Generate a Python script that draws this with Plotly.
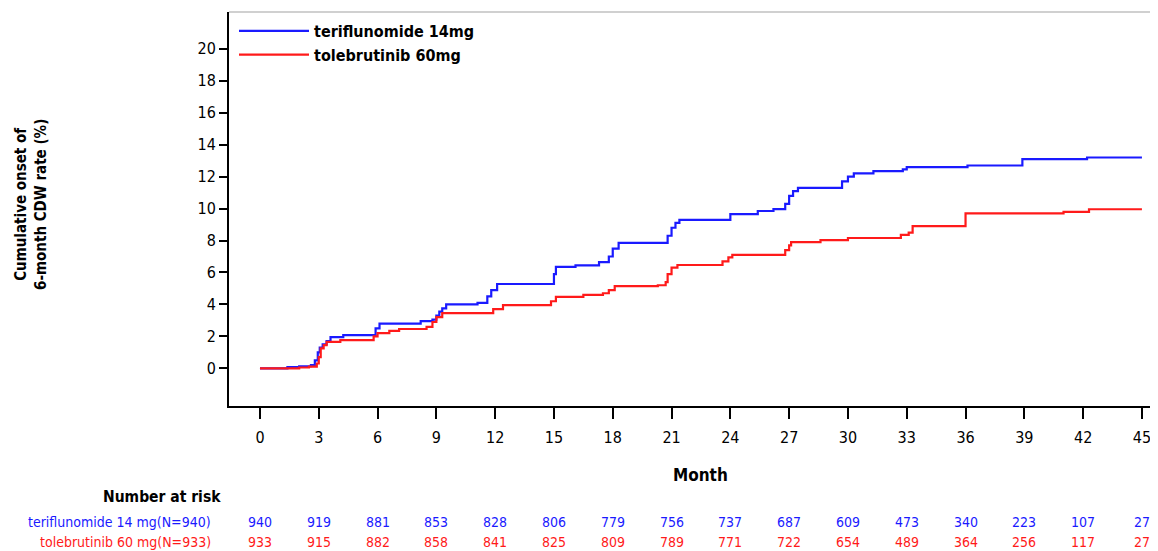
import plotly.graph_objects as go

# ---- Data ----
teri_month = [0, 1.4, 2.0, 2.6, 2.8, 2.95, 3.05, 3.2, 3.4, 3.6, 4.25, 5.9, 6.1, 8.2, 8.8, 9.0, 9.15,
              9.3, 9.5, 11.1, 11.6, 11.8, 12.1, 15.0, 15.1, 16.1, 17.3, 17.8, 18.0, 18.3, 20.8, 21.0,
              21.2, 21.4, 24.0, 25.4, 26.2, 26.8, 27.0, 27.2, 27.45, 29.7, 30.0, 30.3, 31.3, 32.8,
              33.0, 36.1, 38.9, 42.2, 45.0]
teri_rate = [0, 0.08, 0.13, 0.2, 0.5, 1.0, 1.3, 1.5, 1.7, 1.95, 2.08, 2.5, 2.8, 2.95, 3.05, 3.3, 3.55,
             3.75, 4.0, 4.1, 4.5, 4.9, 5.28, 5.9, 6.35, 6.45, 6.65, 7.0, 7.5, 7.85, 8.3, 8.8,
             9.1, 9.3, 9.65, 9.85, 9.97, 10.3, 10.8, 11.1, 11.3, 11.7, 12.0, 12.2, 12.35, 12.45,
             12.6, 12.7, 13.1, 13.2, 13.2]

tole_month = [0, 2.0, 2.5, 2.9, 3.0, 3.1, 3.25, 3.4, 4.1, 5.8, 6.0, 6.6, 7.1, 8.5, 8.8, 9.0, 9.3,
              11.9, 12.4, 14.85, 15.1, 16.5, 17.5, 17.8, 18.1, 20.3, 20.7, 20.8, 21.0, 21.3, 23.6,
              23.9, 24.1, 26.8, 27.0, 27.1, 28.6, 30.0, 32.7, 33.1, 33.3, 36.0, 41.0, 42.3, 45.0]
tole_rate = [0, 0.05, 0.1, 0.3, 0.7, 1.25, 1.45, 1.65, 1.77, 2.0, 2.2, 2.35, 2.46, 2.6, 2.9, 3.2, 3.45,
             3.7, 3.96, 4.2, 4.47, 4.6, 4.7, 4.9, 5.15, 5.2, 5.4, 5.9, 6.3, 6.47, 6.7,
             6.95, 7.1, 7.4, 7.7, 7.9, 8.03, 8.16, 8.35, 8.5, 8.9, 9.7, 9.8, 9.96, 9.96]

risk_months = [0, 3, 6, 9, 12, 15, 18, 21, 24, 27, 30, 33, 36, 39, 42, 45]
teri_risk = [940, 919, 881, 853, 828, 806, 779, 756, 737, 687, 609, 473, 340, 223, 107, 27]
tole_risk = [933, 915, 882, 858, 841, 825, 809, 789, 771, 722, 654, 489, 364, 256, 117, 27]

y_ticks = [0, 2, 4, 6, 8, 10, 12, 14, 16, 18, 20]
x_ticks = risk_months

teri_name = "teriflunomide 14mg"
tole_name = "tolebrutinib 60mg"
teri_row_label = "teriflunomide 14 mg(N=940)"
tole_row_label = "tolebrutinib 60 mg(N=933)"

BLUE = "#1a1aff"
RED = "#ff1a1a"
FONT = "Liberation Sans Narrow, DejaVu Sans Condensed, Liberation Sans, Arial, sans-serif"

fig = go.Figure()
fig.add_trace(go.Scatter(x=teri_month, y=teri_rate, mode="lines", name=teri_name,
                         line=dict(color=BLUE, width=2.2, shape="hv")))
fig.add_trace(go.Scatter(x=tole_month, y=tole_rate, mode="lines", name=tole_name,
                         line=dict(color=RED, width=2.2, shape="hv")))

# page body has an 8px margin: figure is placed at (8, 8) in the window
OFF = 8
WIN_W, WIN_H = 1158, 551
PLOT_L, PLOT_R, PLOT_T, PLOT_B = 229, 1158, 12, 406   # plot area in window pixels
W, H = WIN_W - OFF, WIN_H - OFF
L, R, T, B = PLOT_L - OFF, WIN_W - PLOT_R, PLOT_T - OFF, WIN_H - PLOT_B
pw = PLOT_R - PLOT_L
ph = PLOT_B - PLOT_T


def px_x(p):
    return (p - PLOT_L) / pw


def px_y(p):
    return (PLOT_B - p) / ph


annotations = []
# y-axis title
annotations.append(dict(text="<b>Cumulative onset of<br>6-month CDW rate (%)</b>", xref="paper", yref="paper",
                        x=px_x(31), y=px_y(205), xanchor="center", yanchor="middle", textangle=-90,
                        showarrow=False, font=dict(family=FONT, size=15, color="black")))
# x-axis title
annotations.append(dict(text="<b>Month</b>", xref="paper", yref="paper", x=px_x(700), y=px_y(475),
                        xanchor="center", yanchor="middle", showarrow=False,
                        font=dict(family=FONT, size=17, color="black")))
# number at risk header
annotations.append(dict(text="<b>Number at risk</b>", xref="paper", yref="paper", x=px_x(223), y=px_y(497),
                        xanchor="right", yanchor="middle", showarrow=False,
                        font=dict(family=FONT, size=15.5, color="black")))
annotations.append(dict(text=teri_row_label, xref="paper", yref="paper", x=px_x(213), y=px_y(522),
                        xanchor="right", yanchor="middle", showarrow=False,
                        font=dict(family=FONT, size=14, color=BLUE)))
annotations.append(dict(text=tole_row_label, xref="paper", yref="paper", x=px_x(213), y=px_y(542),
                        xanchor="right", yanchor="middle", showarrow=False,
                        font=dict(family=FONT, size=14, color=RED)))
for m, a, b in zip(risk_months, teri_risk, tole_risk):
    annotations.append(dict(text=str(a), xref="x", yref="paper", x=m, y=px_y(522),
                            xanchor="center", yanchor="middle", showarrow=False,
                            font=dict(family=FONT, size=14, color=BLUE)))
    annotations.append(dict(text=str(b), xref="x", yref="paper", x=m, y=px_y(542),
                            xanchor="center", yanchor="middle", showarrow=False,
                            font=dict(family=FONT, size=14, color=RED)))

fig.update_layout(
    width=W, height=H,
    margin=dict(l=L, r=R, t=T, b=B, autoexpand=False),
    paper_bgcolor="white", plot_bgcolor="white",
    font=dict(family=FONT, size=15, color="black"),
    showlegend=True,
    legend=dict(x=px_x(234), y=px_y(14), xanchor="left", yanchor="top",
                bgcolor="rgba(0,0,0,0)", borderwidth=0,
                font=dict(family=FONT, size=16, color="black", weight="bold"),
                itemwidth=70, tracegroupgap=0),
    xaxis=dict(range=[-1.58, 45.82], tickmode="array", tickvals=x_ticks,
               showgrid=False, zeroline=False, showline=True, linecolor="black", linewidth=2,
               ticks="outside", ticklen=11, tickwidth=1.5, tickcolor="black",
               ticklabelstandoff=5,
               tickfont=dict(family=FONT, size=16, color="black")),
    yaxis=dict(range=[-2.36, 22.31], tickmode="array", tickvals=y_ticks,
               showgrid=False, zeroline=False, showline=True, linecolor="black", linewidth=2,
               ticks="outside", ticklen=8, tickwidth=1.5, tickcolor="black",
               tickfont=dict(family=FONT, size=16, color="black")),
    shapes=[dict(type="line", xref="paper", yref="paper", x0=0, x1=1, y0=1, y1=1,
                 line=dict(color="#d0d0d0", width=2))],
    annotations=annotations,
)

fig.write_html("out.html")
